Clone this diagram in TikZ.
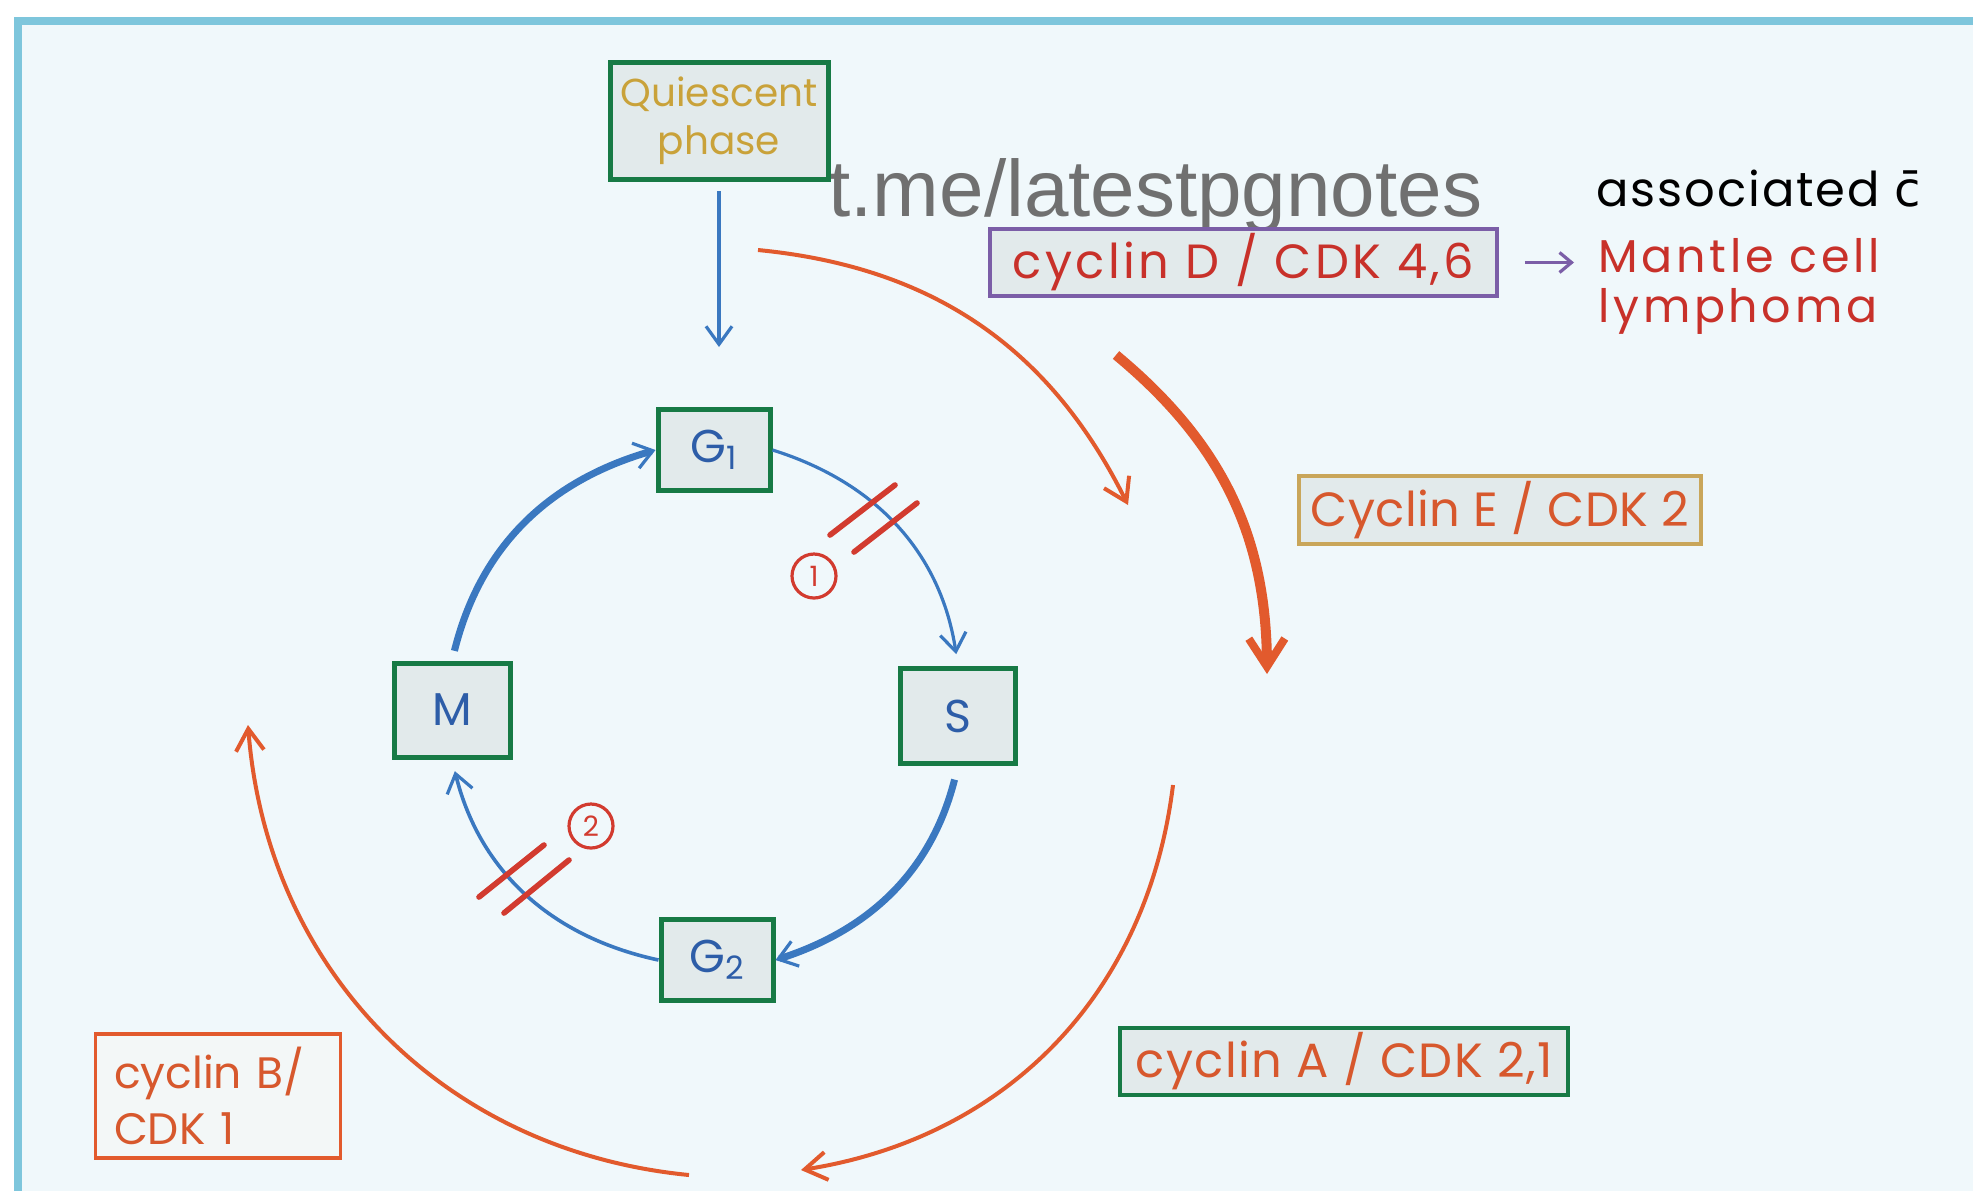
\documentclass[tikz,border=0pt]{standalone}
\usepackage{fontspec}
\setmainfont{Poppins}
\newfontfamily\wmfont{Liberation Sans}
\newfontfamily\djv{DejaVu Sans}
\usetikzlibrary{arrows.meta}
\definecolor{bg}{RGB}{240,248,251}
\definecolor{framecol}{RGB}{126,198,220}
\definecolor{boxgreen}{RGB}{23,122,69}
\definecolor{boxfill}{RGB}{226,234,235}
\definecolor{nodeblue}{RGB}{45,93,168}
\definecolor{arrblue}{RGB}{58,120,192}
\definecolor{orng}{RGB}{226,90,45}
\definecolor{cyctext}{RGB}{215,88,45}
\definecolor{redbar}{RGB}{210,59,47}
\definecolor{purp}{RGB}{123,94,167}
\definecolor{goldb}{RGB}{201,166,90}
\definecolor{qtext}{RGB}{201,162,58}
\definecolor{mantle}{RGB}{200,49,42}
\definecolor{wmgray}{RGB}{112,112,112}
\tikzset{
  phasebox/.style={draw=boxgreen, line width=2.5pt, fill=boxfill, inner sep=0pt,
    minimum width=56pt, minimum height=40.5pt, text=nodeblue,
    font=\fontsize{23}{26}\selectfont},
  cycbox/.style={line width=1.8pt, fill=boxfill, inner sep=0pt, text=cyctext,
    font=\fontsize{24}{26}\selectfont},
  bluearr/.style={draw=arrblue, -{Straight Barb[length=9pt,width=13pt,line width=1.6pt]}},
  orarr/.style={draw=orng, line width=2pt, -{Straight Barb[length=11pt,width=14pt,line width=2pt]}},
  redmark/.style={draw=redbar, line width=2.8pt, line cap=round},
  numcirc/.style={circle, draw=redbar, line width=1.6pt, minimum size=22pt, inner sep=0pt,
    text=redbar, font=\fontsize{14}{14}\selectfont}
}
\begin{document}
\begin{tikzpicture}[x=0.5pt,y=-0.5pt]
\useasboundingbox (0,0) rectangle (1973,1191);
\fill[white] (0,0) rectangle (1973,1191);
\fill[bg] (14,17) rectangle (1973,1191);
\draw[framecol, line width=4pt] (18,1191) -- (18,21) -- (1973,21);

% watermark
\node[anchor=base west, inner sep=0pt, text=wmgray, font=\wmfont\fontsize{40}{48}\selectfont] (wm) at (828,216) {t.me/latestpgnotes};

% phase nodes
\node[phasebox, font=\fontsize{19.5}{24}\selectfont, text=qtext, minimum width=109pt, minimum height=58.5pt, align=center] (Q) at (719,121) {Quiescent\\phase};
\node[phasebox] (G1) at (714,450) {G\textsubscript{1}};
\node[phasebox, minimum width=57.5pt, minimum height=47.5pt] (S) at (958,716) {S};
\node[phasebox, minimum width=58pt, minimum height=47pt] (M) at (452,710) {M};
\node[phasebox] (G2) at (717,960) {G\textsubscript{2}};

% cyclin boxes
\node[cycbox, draw=purp, minimum width=253.5pt, minimum height=33.5pt, text=mantle,
  font=\fontsize{24}{26}\selectfont\addfontfeatures{LetterSpace=7}] (CD) at (1243.5,262.5) {cyclin D / CDK 4,6};
\node[cycbox, draw=goldb, minimum width=201pt, minimum height=34pt,
  font=\fontsize{24}{26}\selectfont\addfontfeatures{LetterSpace=1}] (CE) at (1500,510) {Cyclin E / CDK 2};
\node[cycbox, draw=boxgreen, minimum width=224pt, minimum height=33.5pt,
  font=\fontsize{24}{26}\selectfont\addfontfeatures{LetterSpace=3}] (CA) at (1344,1061.5) {cyclin A / CDK 2,1};
\node[cycbox, draw=orng, fill=white!60!boxfill, minimum width=122.5pt, minimum height=62pt, align=left, text width=104pt,
  font=\fontsize{22}{28}\selectfont] (CB) at (218,1096) {cyclin B/\\CDK 1};

% notes
\node[anchor=base west, inner sep=0pt, font=\fontsize{24}{26}\selectfont\addfontfeatures{LetterSpace=4}] (assoc) at (1596,206) {associated {\djv c̄}};
\node[anchor=north west, inner sep=0pt, text=mantle, align=left, font=\fontsize{23}{25}\selectfont\addfontfeatures{LetterSpace=8}] (MC) at (1598,238) {Mantle cell\\lymphoma};
\draw[purp, line width=1.6pt, -{Straight Barb[length=6pt,width=10pt,line width=1.6pt]}, shorten <=13pt, shorten >=12pt] (CD.east) -- (CD.east -| MC.west);

% cycle arrows
\draw[bluearr, line width=3.5pt, shorten <=5pt] (M.north) to[bend left=30] (G1.west);
\draw[bluearr, line width=1.6pt, shorten >=6pt] (G1.east) to[bend left=32] (S.north);
\draw[bluearr, line width=3.5pt, shorten <=7pt] (S.south) to[bend left=29] (G2.east);
\draw[bluearr, line width=1.8pt, shorten >=6pt] (G2.west) to[bend left=32] (M.south);
\draw[bluearr, line width=1.6pt, shorten <=4.5pt, shorten >=30pt] (Q.south) -- (Q.south |- G1.north);

% checkpoints
\draw[redmark] (830,535) -- (895,485);
\draw[redmark] (854,552) -- (917,503);
\draw[redmark] (479,897) -- (544,845);
\draw[redmark] (504,913) -- (569,860);
\node[numcirc] (n1) at (814,576) {1};
\node[numcirc] (n2) at (591,826) {2};

% outer orange arcs
\coordinate (o1s) at (758,250); \coordinate (o1e) at (1128,505);
\coordinate (o2s) at (1116,355); \coordinate (o2e) at (1267,674);
\coordinate (o3s) at (1173,785); \coordinate (o3e) at (801,1170);
\coordinate (o4s) at (689,1175); \coordinate (o4e) at (248,725);
\draw[orarr] (o1s) to[bend left=29] (o1e);
\draw[orarr, line width=5pt, -{Straight Barb[length=14pt,width=18pt,line width=4pt]}] (o2s) to[bend left=25] (o2e);
\draw[orarr] (o3s) to[bend left=37] (o3e);
\draw[orarr] (o4s) to[bend left=40] (o4e);
\end{tikzpicture}
\end{document}
